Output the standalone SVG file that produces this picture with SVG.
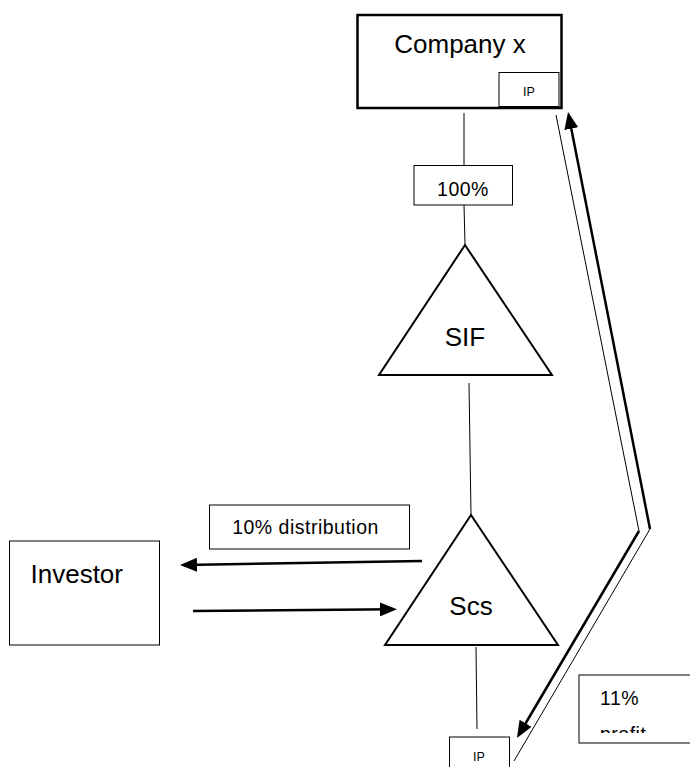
<svg xmlns="http://www.w3.org/2000/svg" width="690" height="767" viewBox="0 0 690 767">
  <style>
    text { font-family: "Liberation Sans", Arial, sans-serif; fill: #000; }
    .big { font-size: 26px; }
    .mid { font-size: 19.5px; letter-spacing: 0.5px; }
    .small { font-size: 12.5px; }
    .box { fill: #fff; stroke: #000; stroke-width: 1; }
    .tri { fill: #fff; stroke: #000; stroke-width: 2; stroke-linejoin: miter; }
    .thin { stroke: #000; stroke-width: 1; fill: none; }
    .thick { stroke: #000; stroke-width: 2.5; fill: none; }
  </style>
  <defs>
    <marker id="ah" markerUnits="userSpaceOnUse" markerWidth="17" markerHeight="14" refX="13" refY="7" orient="auto">
      <path d="M0,0 L17,7 L0,14 z" fill="#000"/>
    </marker>
    <clipPath id="profitClip">
      <rect x="580" y="676" width="110" height="57"/>
    </clipPath>
  </defs>
  <rect width="690" height="767" fill="#fff"/>

  <g id="connectors">
    <line class="thin" x1="464" y1="113" x2="464" y2="166"/>
    <line class="thin" x1="464" y1="205" x2="465" y2="245"/>
    <line class="thin" x1="469" y1="383" x2="471" y2="515"/>
    <line class="thin" x1="476" y1="647" x2="477" y2="729"/>
    <line class="thick" x1="422" y1="561" x2="184" y2="565" marker-end="url(#ah)"/>
    <line class="thick" x1="193" y1="611" x2="393" y2="609.3" marker-end="url(#ah)"/>
    <line class="thin" x1="556" y1="115" x2="639" y2="531"/>
    <line class="thick" x1="639" y1="531" x2="519" y2="734.5" marker-end="url(#ah)"/>
    <line class="thick" x1="650" y1="529" x2="568.8" y2="115.9" marker-end="url(#ah)"/>
    <line class="thin" x1="650" y1="529" x2="514" y2="761"/>
  </g>

  <g id="company-x">
    <rect x="357.5" y="15" width="204" height="93" fill="#fff" stroke="#000" stroke-width="2.5"/>
    <text class="big" x="460" y="53" text-anchor="middle">Company x</text>
  </g>
  <g id="ip-top">
    <rect class="box" x="499" y="72.5" width="60" height="34"/>
    <text class="small" x="529" y="95.5" text-anchor="middle">IP</text>
  </g>
  <g id="label-100">
    <rect class="box" x="414" y="165.5" width="98.5" height="39.5"/>
    <text class="mid" x="463" y="196" text-anchor="middle">100%</text>
  </g>
  <g id="sif">
    <polygon class="tri" points="465,245 379,375 552,375"/>
    <text class="big" x="465" y="346" text-anchor="middle">SIF</text>
  </g>
  <g id="label-distribution">
    <rect class="box" x="209.5" y="505" width="200" height="44"/>
    <text class="mid" x="305.5" y="534" text-anchor="middle">10% distribution</text>
  </g>
  <g id="investor">
    <rect class="box" x="9.5" y="541" width="150" height="104"/>
    <text class="big" x="30.5" y="583">Investor</text>
  </g>
  <g id="scs">
    <polygon class="tri" points="471,515 385,645 558,645"/>
    <text class="big" x="471" y="615" text-anchor="middle">Scs</text>
  </g>
  <g id="label-profit">
    <rect class="box" x="579" y="675" width="120" height="68"/>
    <g clip-path="url(#profitClip)">
      <text class="mid" x="600" y="705">11%</text>
      <text class="mid" x="600" y="741">profit</text>
    </g>
  </g>
  <g id="ip-bottom">
    <rect class="box" x="449.5" y="737" width="60" height="40"/>
    <text class="small" x="479" y="761" text-anchor="middle">IP</text>
  </g>
</svg>
